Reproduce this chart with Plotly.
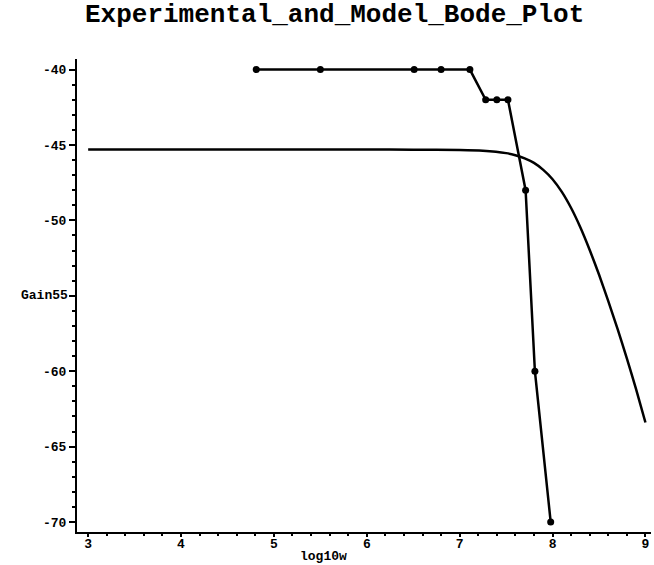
import plotly.graph_objects as go

exp_x = [4.81, 5.50, 6.51, 6.80, 7.11, 7.28, 7.40, 7.52, 7.71, 7.81, 7.98]
exp_y = [-40, -40, -40, -40, -40, -42, -42, -42, -48, -60, -70]

# Model curve
mod_x = [3.0, 4.0, 5.0, 6.0, 6.5, 7.0, 7.25, 7.5, 7.6, 7.7, 7.8, 7.9, 8.0, 8.1, 8.2, 8.3, 8.4, 8.5, 8.6, 8.7, 8.8, 8.9, 9.0]
mod_y = [-45.3, -45.3, -45.3, -45.3, -45.31, -45.33, -45.38, -45.54, -45.68, -45.89, -46.19, -46.65, -47.27, -48.11,
         -49.18, -50.47, -51.96, -53.59, -55.35, -57.2, -59.15, -61.2, -63.4]

x_ticks = [3, 4, 5, 6, 7, 8, 9]
y_ticks = [-40, -45, -50, -55, -60, -65, -70]
y_ticklabels = ["-40", "-45", "-50", "", "-60", "-65", "-70"]

FONT = "Liberation Mono"

fig = go.Figure()
fig.add_trace(go.Scatter(x=mod_x, y=mod_y, mode="lines",
                         line=dict(color="black", width=2.5, shape="spline", smoothing=0.5),
                         showlegend=False))
fig.add_trace(go.Scatter(x=exp_x, y=exp_y, mode="lines+markers",
                         line=dict(color="black", width=2.5),
                         marker=dict(color="black", size=7),
                         showlegend=False))

fig.update_layout(
    width=654, height=565,
    margin=dict(l=77, r=3, t=59, b=33),
    plot_bgcolor="white", paper_bgcolor="white",
    font=dict(family=FONT, color="black", size=13, weight="bold"),
    showlegend=False,
)
fig.update_xaxes(range=[2.88, 9.06], tickvals=x_ticks, ticktext=[str(v) for v in x_ticks],
                 showgrid=False, zeroline=False, showline=True, linecolor="black", linewidth=2,
                 ticks="outside", ticklen=3, tickwidth=2, tickcolor="black", ticklabelstandoff=-5,
                 tickfont=dict(family=FONT, size=13, weight="bold"),
                 minor=dict(dtick=0.2, tick0=3, ticks="outside", ticklen=2, tickwidth=1.5, tickcolor="black"))
fig.update_yaxes(range=[-70.66, -39.3], tickvals=y_ticks, ticktext=y_ticklabels,
                 showgrid=False, zeroline=False, showline=True, linecolor="black", linewidth=2,
                 ticks="outside", ticklen=6, tickwidth=2, tickcolor="black",
                 tickfont=dict(family=FONT, size=13, weight="bold"),
                 minor=dict(dtick=1, tick0=-70, ticks="outside", ticklen=3, tickwidth=1.5, tickcolor="black"))

fig.add_annotation(text="Gain55", xref="paper", yref="y", x=-0.012, y=-55,
                   xanchor="right", yanchor="middle", showarrow=False,
                   font=dict(family=FONT, size=13, weight="bold"))
fig.add_annotation(text="log10w", xref="paper", yref="paper", x=0.4286, y=-(556 - 532) / 473,
                   xanchor="center", yanchor="middle", showarrow=False,
                   font=dict(family=FONT, size=13, weight="bold"))
fig.add_annotation(text="Experimental_and_Model_Bode_Plot", xref="paper", yref="paper",
                   x=(334 - 77) / 574, y=1 + (59 - 15) / 473, xanchor="center", yanchor="middle",
                   showarrow=False, font=dict(family=FONT, size=26, weight="bold"))

fig.write_html("out.html")
